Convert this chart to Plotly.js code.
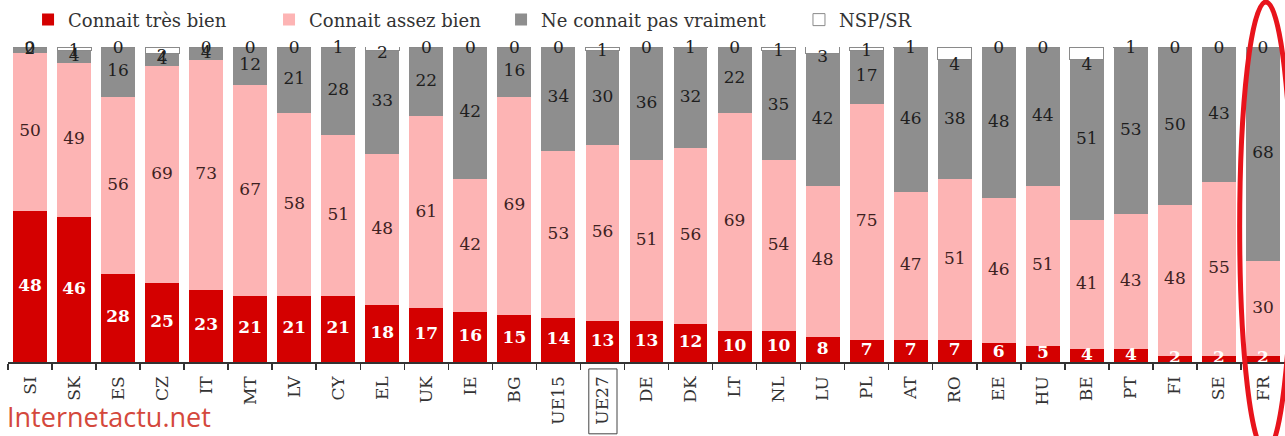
<!DOCTYPE html>
<html><head><meta charset="utf-8">
<script src="https://cdn.plot.ly/plotly-3.0.1.min.js"></script>
<style>html,body{margin:0;padding:0;background:#fff}#chart{width:1285px;height:436px}</style>
</head><body><div id="chart"></div>
<script>
const categories = ["SI","SK","ES","CZ","IT","MT","LV","CY","EL","UK","IE","BG","UE15","UE27","DE","DK","LT","NL","LU","PL","AT","RO","EE","HU","BE","PT","FI","SE","FR"];
const tresBien   = [48,46,28,25,23,21,21,21,18,17,16,15,14,13,13,12,10,10,8,7,7,7,6,5,4,4,2,2,2];
const assezBien  = [50,49,56,69,73,67,58,51,48,61,42,69,53,56,51,56,69,54,48,75,47,51,46,51,41,43,48,55,30];
const pasVraiment= [2,4,16,4,4,12,21,28,33,22,42,16,34,30,36,32,22,35,42,17,46,38,48,44,51,53,50,43,68];
const nspSr      = [0,1,0,2,0,0,0,1,2,0,0,0,0,1,0,1,0,1,3,1,1,4,0,0,4,1,0,0,0];
const seriesNames = ["Connait très bien","Connait assez bien","Ne connait pas vraiment","NSP/SR"];

const FONT = "DejaVu Serif";
const cRed = "#d40000", cPink = "#fdb4b4", cGray = "#8e8e8e";
const legendIds = ["legend","legend2","legend3","legend4"];

const bars = [
  {name: seriesNames[0], y: tresBien, color: cRed},
  {name: seriesNames[1], y: assezBien, color: cPink},
  {name: seriesNames[2], y: pasVraiment, color: cGray},
  {name: seriesNames[3], y: nspSr, color: "#ffffff", line: {color: "#8a8a8a", width: 1}}
].map((s, k) => ({
  type: "bar", x: categories, y: s.y, name: s.name, legend: legendIds[k],
  marker: {color: s.color, line: s.line || {width: 0}},
  hoverinfo: "skip"
}));

// label positions (centre of each segment)
const base1 = tresBien.map(v => 0);
const mid = (b, v) => b.map((x, i) => x + v[i] / 2);
const cum1 = tresBien.slice();
const cum2 = tresBien.map((v, i) => v + assezBien[i]);
const cum3 = cum2.map((v, i) => v + pasVraiment[i]);
function textTrace(yv, vals, color, bold) {
  return {type: "scatter", mode: "text", x: categories, y: yv,
    text: vals.map(v => bold ? "<b>" + v + "</b>" : String(v)),
    textfont: {family: FONT, size: 17, color: color},
    showlegend: false, hoverinfo: "skip", cliponaxis: false};
}
const labels = [
  textTrace(mid(base1, tresBien), tresBien, "#ffffff", true),
  textTrace(mid(cum1, assezBien), assezBien, "#3d2222", false),
  textTrace(mid(cum2, pasVraiment), pasVraiment, "#1e1e1e", false),
  textTrace(cum3.map((c, i) => Math.min(c, 100) - Math.max(nspSr[i], 1) / 2), nspSr, "#1e1e1e", false)
];

const legFont = {family: FONT, size: 18, color: "#333"};
const legX = [0.0157, 0.2044, 0.3861, 0.6194];
const layout = {
  width: 1285, height: 436,
  margin: {l: 8, r: 0, t: 47, b: 74},
  barmode: "stack", bargap: 0.23,
  paper_bgcolor: "#fff", plot_bgcolor: "#fff",
  showlegend: true,
  xaxis: {type: "category", range: [-0.5, 28.5], showgrid: false, zeroline: false,
    showline: true, linecolor: "#333", linewidth: 1.5,
    ticks: "outside", tickson: "boundaries", ticklen: 6, tickcolor: "#333", tickwidth: 1.5,
    tickangle: -90, ticklabelstandoff: 6,
    tickfont: {family: FONT, size: 17, color: "#333"}, automargin: false},
  yaxis: {range: [0, 100], visible: false, fixedrange: true},
  shapes: [
    {type: "rect", xref: "x", yref: "paper", x0: 12.69, x1: 13.33, y0: -0.228, y1: -0.022,
     line: {color: "#444", width: 1}},
    {type: "circle", xref: "paper", yref: "paper", x0: 0.9645, x1: 1.0055, y0: -0.285, y1: 1.143,
     line: {color: "#e8141c", width: 5}}
  ],
  annotations: [
    {xref: "paper", yref: "paper", x: -0.002, y: -0.172, xanchor: "left", yanchor: "middle",
     text: "Internetactu.net", showarrow: false,
     font: {family: "Open Sans", size: 27, color: "#d4483c"}}
  ]
};
legendIds.forEach((id, k) => {
  layout[id] = {orientation: "h", x: legX[k], xanchor: "left", y: 1.086, yanchor: "middle",
    font: legFont, itemclick: false, bgcolor: "rgba(0,0,0,0)"};
});

Plotly.newPlot("chart", bars.concat(labels), layout, {displayModeBar: false, staticPlot: true});
</script>
</body></html>
